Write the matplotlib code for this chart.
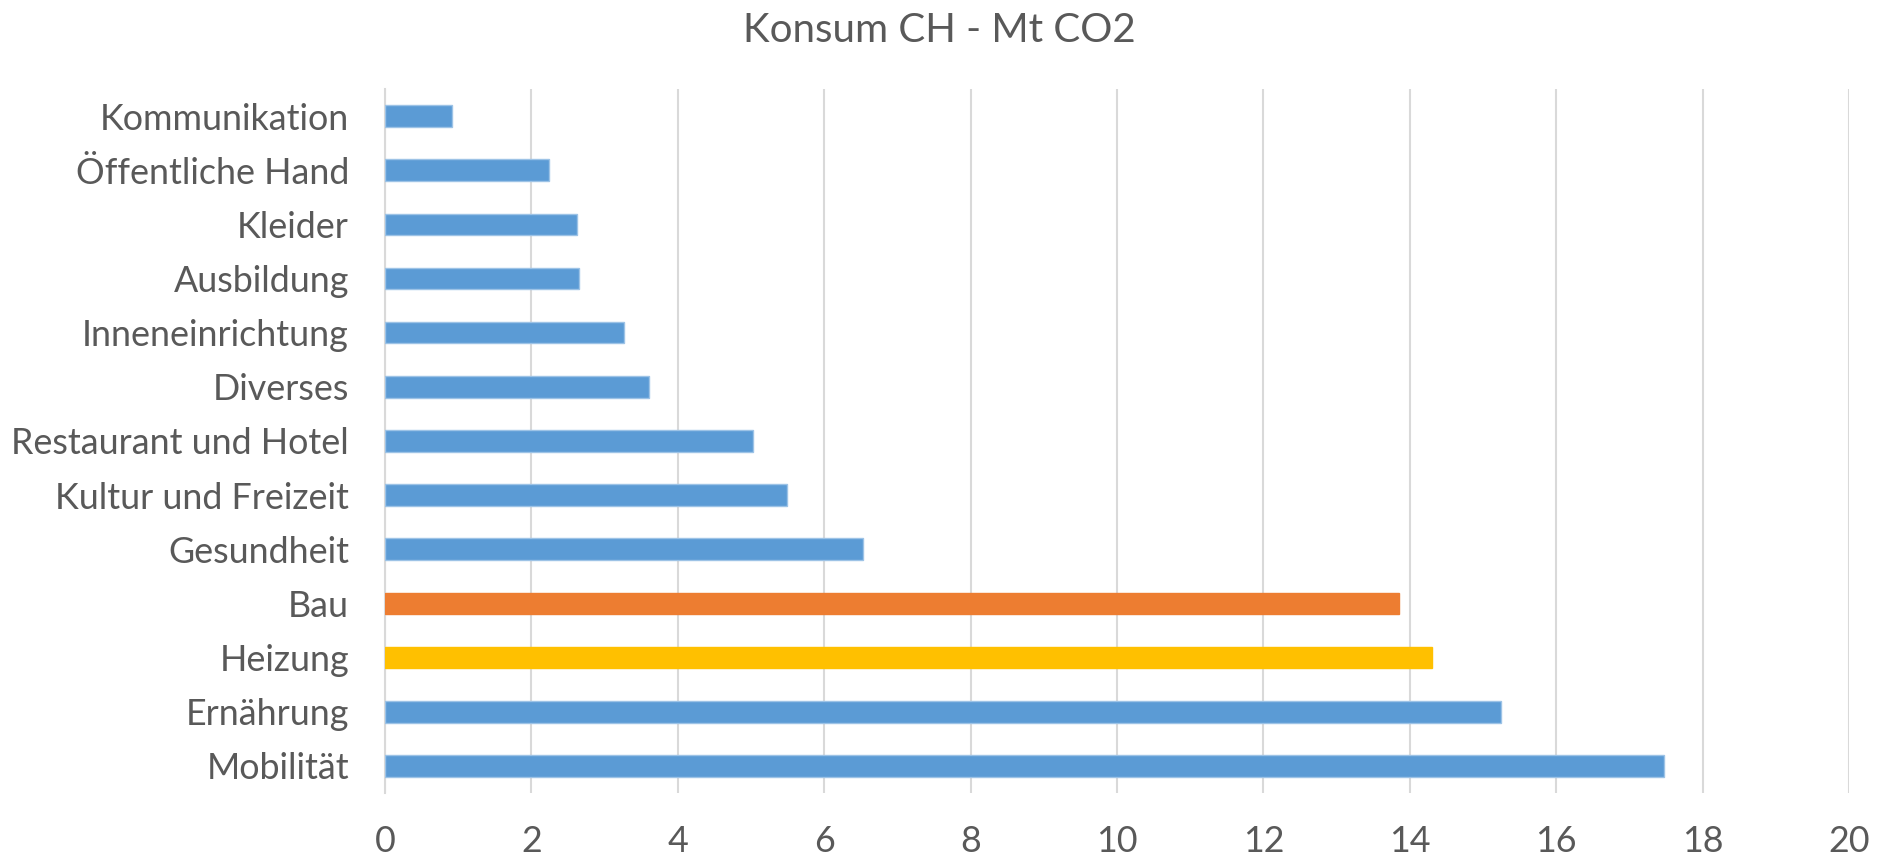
import matplotlib.pyplot as plt

categories = ['Kommunikation', 'Öffentliche Hand', 'Kleider', 'Ausbildung',
              'Inneneinrichtung', 'Diverses', 'Restaurant und Hotel',
              'Kultur und Freizeit', 'Gesundheit', 'Bau', 'Heizung',
              'Ernährung', 'Mobilität']
values = [0.92, 2.24, 2.62, 2.65, 3.26, 3.60, 5.03, 5.49, 6.53, 13.85, 14.31, 15.25, 17.47]
colors = ['#5B9BD5'] * 9 + ['#ED7D31', '#FFC000', '#5B9BD5', '#5B9BD5']
edges = ['#9DC3E6'] * 9 + ['#ED7D31', '#FFC000', '#9DC3E6', '#9DC3E6']
xticks = list(range(0, 21, 2))

plt.rcParams['font.family'] = ['Lato', 'DejaVu Sans']
txt = '#595959'

fig = plt.figure(figsize=(18.79, 8.58), dpi=100)
ax = fig.add_axes([0.2049, 0.0758, 0.7791, 0.8205])

ypos = list(range(len(categories)))
ax.barh(ypos, values, height=0.4, color=colors, edgecolor=edges, linewidth=1.0, zorder=3)
ax.set_ylim(len(categories) - 0.5, -0.5)
ax.set_xlim(0, 20)
ax.set_yticks(ypos)
ax.set_yticklabels(categories)
ax.set_xticks(xticks)
ax.set_xticklabels([str(t) for t in xticks])
ax.tick_params(axis='both', length=0, labelsize=25.8, labelcolor=txt)
ax.tick_params(axis='x', pad=23)
ax.tick_params(axis='y', pad=26)
ax.grid(axis='x', color='#D9D9D9', linewidth=1.5, zorder=0)
for s in ['top', 'right', 'bottom']:
    ax.spines[s].set_visible(False)
ax.spines['left'].set_color('#D9D9D9')
ax.spines['left'].set_linewidth(1.5)

fig.text(0.5, 0.965, 'Konsum CH - Mt CO2', ha='center', va='center', fontsize=29, color=txt)

fig.savefig('out.png', dpi=100)
